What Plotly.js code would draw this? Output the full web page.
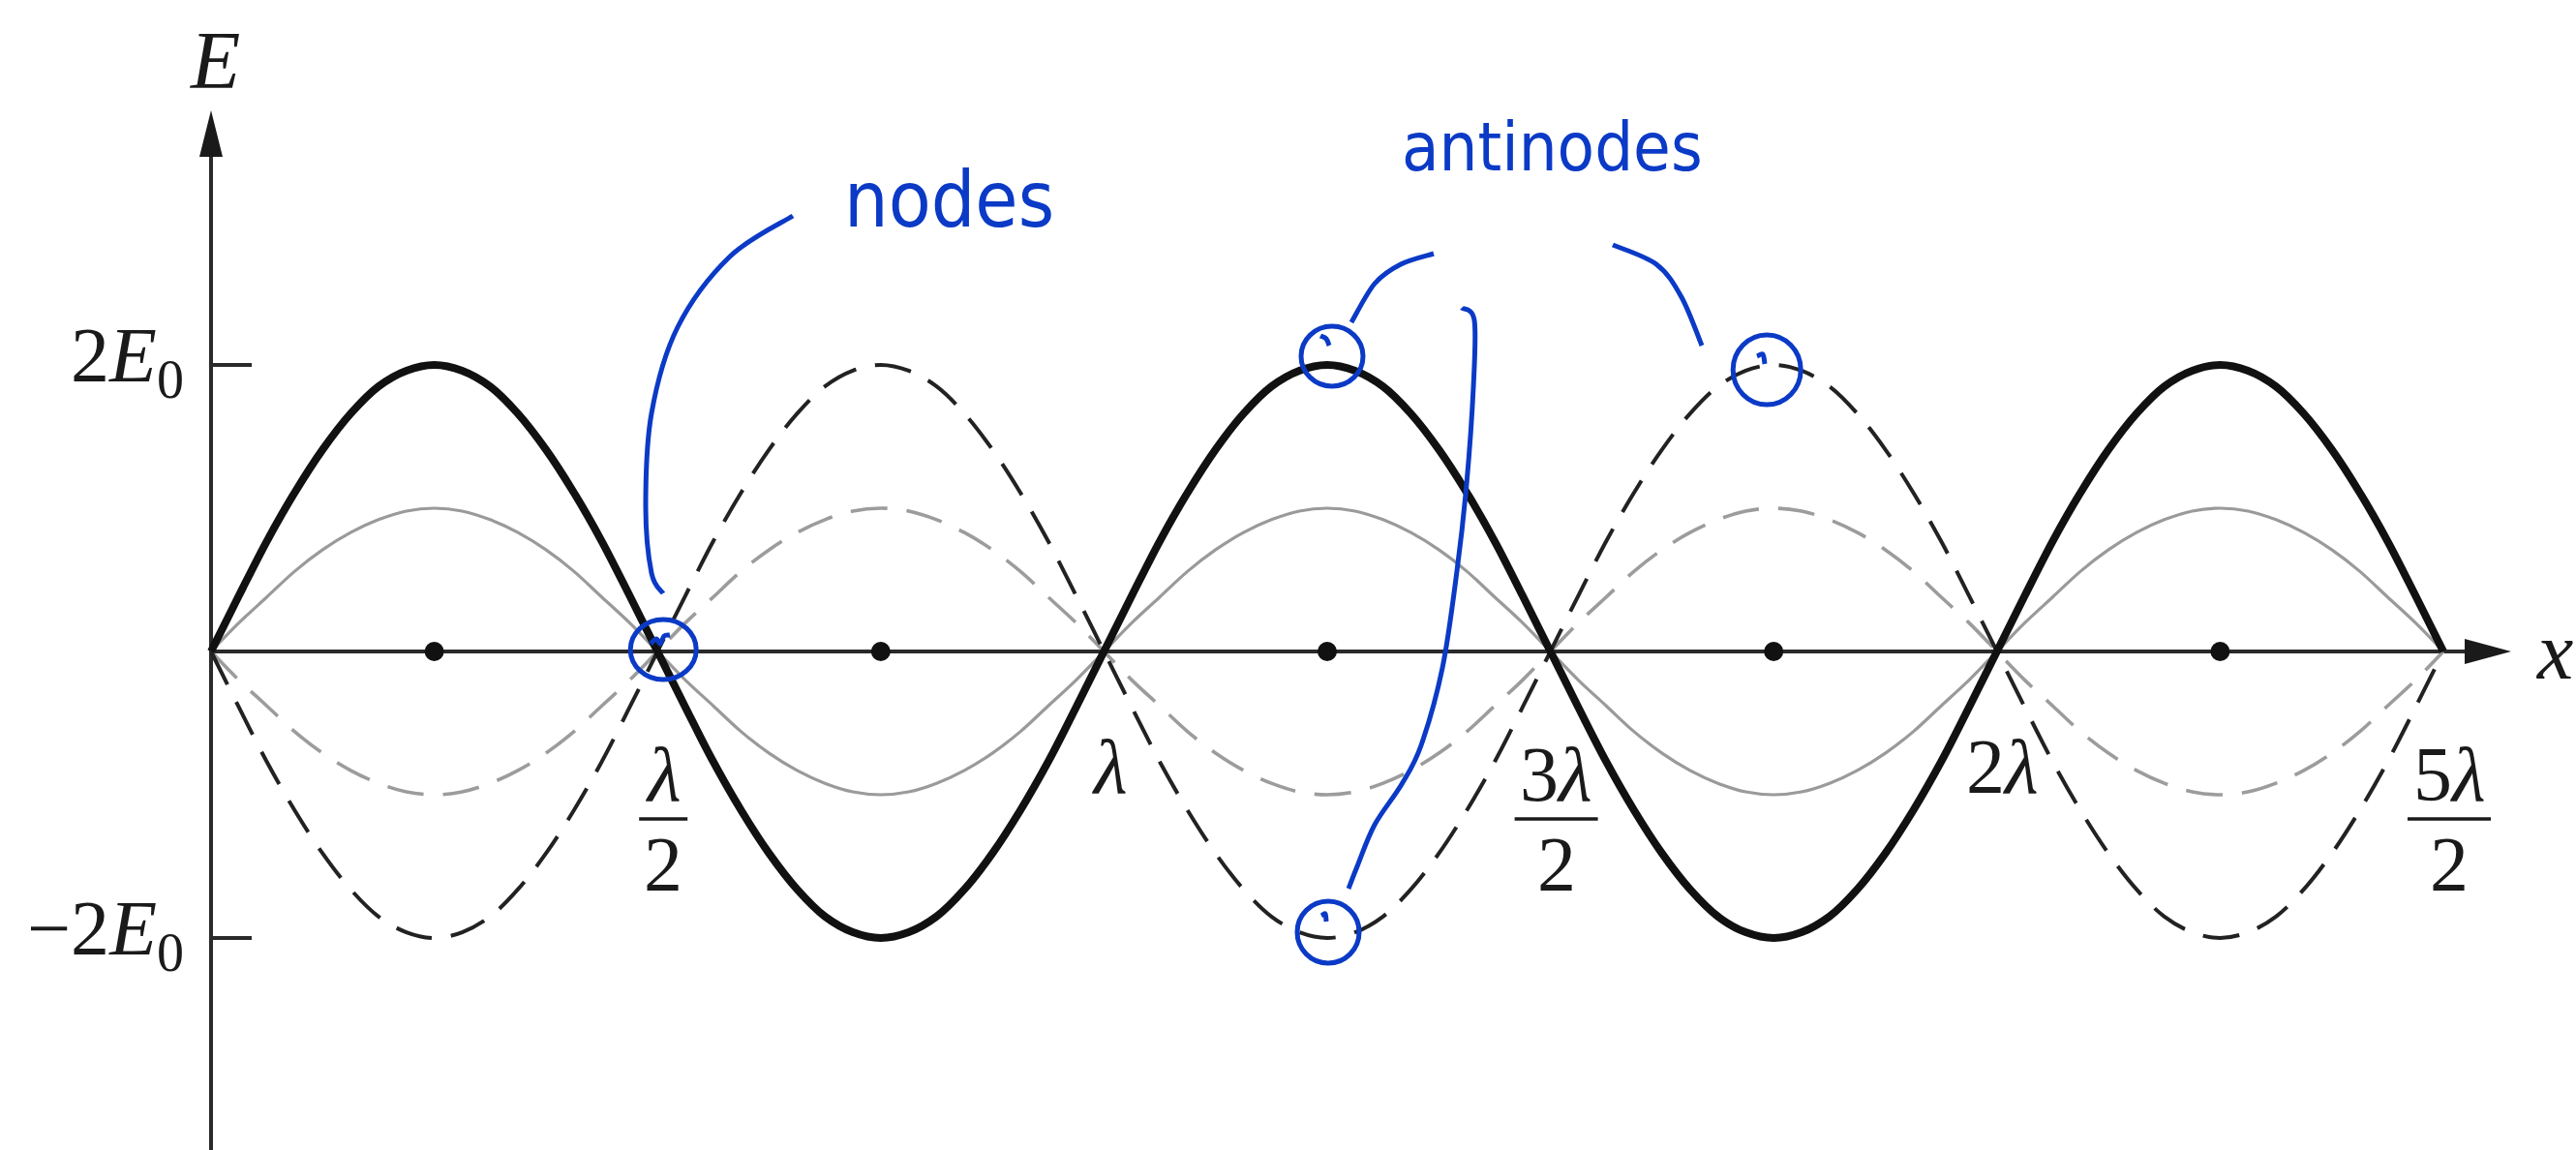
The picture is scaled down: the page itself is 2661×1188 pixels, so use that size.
<!DOCTYPE html>
<html>
<head>
<meta charset="utf-8">
<script src="https://cdn.plot.ly/plotly-3.0.1.min.js"></script>
<style>
  html, body { margin: 0; padding: 0; background: #fff; }
  #chart { width: 2661px; height: 1188px; }
</style>
</head>
<body>
<div id="chart"></div>
<script>
// Standing wave: position along x in units of the wavelength λ,
// field E in units of E0.
const x_pos = [
  0, 0.03125, 0.0625, 0.09375, 0.125, 0.15625, 0.1875, 0.21875, 0.25, 0.28125, 0.3125, 0.34375, 0.375, 0.40625, 0.4375, 0.46875,
  0.5, 0.53125, 0.5625, 0.59375, 0.625, 0.65625, 0.6875, 0.71875, 0.75, 0.78125, 0.8125, 0.84375, 0.875, 0.90625, 0.9375, 0.96875,
  1, 1.03125, 1.0625, 1.09375, 1.125, 1.15625, 1.1875, 1.21875, 1.25, 1.28125, 1.3125, 1.34375, 1.375, 1.40625, 1.4375, 1.46875,
  1.5, 1.53125, 1.5625, 1.59375, 1.625, 1.65625, 1.6875, 1.71875, 1.75, 1.78125, 1.8125, 1.84375, 1.875, 1.90625, 1.9375, 1.96875,
  2, 2.03125, 2.0625, 2.09375, 2.125, 2.15625, 2.1875, 2.21875, 2.25, 2.28125, 2.3125, 2.34375, 2.375, 2.40625, 2.4375, 2.46875,
  2.5];

// Full-amplitude snapshot (±2E0)
const e_full = [
  0, 0.39, 0.77, 1.11, 1.41, 1.66, 1.85, 1.96, 2, 1.96, 1.85, 1.66, 1.41, 1.11, 0.77, 0.39,
  0, -0.39, -0.77, -1.11, -1.41, -1.66, -1.85, -1.96, -2, -1.96, -1.85, -1.66, -1.41, -1.11, -0.77, -0.39,
  0, 0.39, 0.77, 1.11, 1.41, 1.66, 1.85, 1.96, 2, 1.96, 1.85, 1.66, 1.41, 1.11, 0.77, 0.39,
  0, -0.39, -0.77, -1.11, -1.41, -1.66, -1.85, -1.96, -2, -1.96, -1.85, -1.66, -1.41, -1.11, -0.77, -0.39,
  0, 0.39, 0.77, 1.11, 1.41, 1.66, 1.85, 1.96, 2, 1.96, 1.85, 1.66, 1.41, 1.11, 0.77, 0.39,
  0];

// Opposite-phase full-amplitude snapshot
const e_full_inv = [
  0, -0.39, -0.77, -1.11, -1.41, -1.66, -1.85, -1.96, -2, -1.96, -1.85, -1.66, -1.41, -1.11, -0.77, -0.39,
  0, 0.39, 0.77, 1.11, 1.41, 1.66, 1.85, 1.96, 2, 1.96, 1.85, 1.66, 1.41, 1.11, 0.77, 0.39,
  0, -0.39, -0.77, -1.11, -1.41, -1.66, -1.85, -1.96, -2, -1.96, -1.85, -1.66, -1.41, -1.11, -0.77, -0.39,
  0, 0.39, 0.77, 1.11, 1.41, 1.66, 1.85, 1.96, 2, 1.96, 1.85, 1.66, 1.41, 1.11, 0.77, 0.39,
  0, -0.39, -0.77, -1.11, -1.41, -1.66, -1.85, -1.96, -2, -1.96, -1.85, -1.66, -1.41, -1.11, -0.77, -0.39,
  0];

// Intermediate snapshots (±E0)
const e_half = [
  0, 0.2, 0.38, 0.56, 0.71, 0.83, 0.92, 0.98, 1, 0.98, 0.92, 0.83, 0.71, 0.56, 0.38, 0.2,
  0, -0.2, -0.38, -0.56, -0.71, -0.83, -0.92, -0.98, -1, -0.98, -0.92, -0.83, -0.71, -0.56, -0.38, -0.2,
  0, 0.2, 0.38, 0.56, 0.71, 0.83, 0.92, 0.98, 1, 0.98, 0.92, 0.83, 0.71, 0.56, 0.38, 0.2,
  0, -0.2, -0.38, -0.56, -0.71, -0.83, -0.92, -0.98, -1, -0.98, -0.92, -0.83, -0.71, -0.56, -0.38, -0.2,
  0, 0.2, 0.38, 0.56, 0.71, 0.83, 0.92, 0.98, 1, 0.98, 0.92, 0.83, 0.71, 0.56, 0.38, 0.2,
  0];

const e_half_inv = [
  0, -0.2, -0.38, -0.56, -0.71, -0.83, -0.92, -0.98, -1, -0.98, -0.92, -0.83, -0.71, -0.56, -0.38, -0.2,
  0, 0.2, 0.38, 0.56, 0.71, 0.83, 0.92, 0.98, 1, 0.98, 0.92, 0.83, 0.71, 0.56, 0.38, 0.2,
  0, -0.2, -0.38, -0.56, -0.71, -0.83, -0.92, -0.98, -1, -0.98, -0.92, -0.83, -0.71, -0.56, -0.38, -0.2,
  0, 0.2, 0.38, 0.56, 0.71, 0.83, 0.92, 0.98, 1, 0.98, 0.92, 0.83, 0.71, 0.56, 0.38, 0.2,
  0, -0.2, -0.38, -0.56, -0.71, -0.83, -0.92, -0.98, -1, -0.98, -0.92, -0.83, -0.71, -0.56, -0.38, -0.2,
  0];

// Points on the axis midway between nodes
const mid_x = [0.25, 0.75, 1.25, 1.75, 2.25];
const mid_y = [0, 0, 0, 0, 0];

// x-axis labels: position, numerator, denominator (null when not a fraction)
const x_ticks = [0.5, 1, 1.5, 2, 2.5];
const x_tick_num = ['λ', 'λ', '3λ', '2λ', '5λ'];
const x_tick_den = ['2', null, '2', null, '2'];

// y-axis ticks
const y_ticks = [2, -2];
const y_tick_text = ['2<i>E</i><sub>0</sub>', '\u22122<i>E</i><sub>0</sub>'];

// Marked points
const node_pts = [[0.5, 0]];
const antinode_pts = [[1.25, 2], [1.75, 2], [1.25, -2]];

// ---- page geometry (pixels) ----
const W = 2661, H = 1188;
const OX = 218, OY = 673;       // origin
const PX_PER_LAM = 922.4;       // pixels per wavelength
const PX_PER_E0 = 148;          // pixels per E0
const X = p => (p - OX) / PX_PER_LAM;
const Y = p => (OY - p) / PX_PER_E0;
const DX = d => d / PX_PER_LAM;
const DY = d => d / PX_PER_E0;

const INK = '#1a1a1a';
const BLUE = '#0b3ac6';
const SERIF = 'Liberation Serif, Times New Roman, serif';

const traces = [
  { x: x_pos, y: e_half, mode: 'lines', line: { color: '#9a9a9a', width: 3.2, shape: 'spline' } },
  { x: x_pos, y: e_half_inv, mode: 'lines', line: { color: '#9c9c9c', width: 3.6, dash: '38px,20px', shape: 'spline' } },
  { x: x_pos, y: e_full_inv, mode: 'lines', line: { color: '#222', width: 4, dash: '38px,20px', shape: 'spline' } },
  { x: x_pos, y: e_full, mode: 'lines', line: { color: '#111', width: 8, shape: 'spline' } },
  { x: mid_x, y: mid_y, mode: 'markers', marker: { color: '#111', size: 20 } }
];

const shapes = [];
const annotations = [];

// Axes with arrowheads
shapes.push({ type: 'line', layer: 'below', x0: 0, y0: 0, x1: X(2552), y1: 0, line: { color: '#2a2a2a', width: 4 } });
shapes.push({ type: 'path', layer: 'below',
  path: `M ${X(2594)},0 L ${X(2546)},${DY(13)} L ${X(2546)},${-DY(13)} Z`,
  fillcolor: '#1a1a1a', line: { width: 0 } });
shapes.push({ type: 'line', layer: 'below', x0: 0, y0: Y(H + 5), x1: 0, y1: Y(158), line: { color: '#2a2a2a', width: 4 } });
shapes.push({ type: 'path', layer: 'below',
  path: `M 0,${Y(114)} L ${-DX(12)},${Y(162)} L ${DX(12)},${Y(162)} Z`,
  fillcolor: '#1a1a1a', line: { width: 0 } });

// y ticks and labels
y_ticks.forEach((v, i) => {
  shapes.push({ type: 'line', layer: 'below', x0: 0, y0: v, x1: DX(42), y1: v, line: { color: '#2a2a2a', width: 4 } });
  annotations.push({ x: X(192), y: v + DY(4), xanchor: 'right', yanchor: 'middle', showarrow: false,
    text: y_tick_text[i], font: { family: SERIF, size: 80, color: INK } });
});

// x tick labels (stacked fractions where needed)
x_ticks.forEach((v, i) => {
  const cx = v + DX(6);
  const num = x_tick_num[i].replace('λ', '<i>λ</i>');
  if (x_tick_den[i]) {
    annotations.push({ x: cx, y: Y(800), xanchor: 'center', yanchor: 'middle', showarrow: false,
      text: num, font: { family: SERIF, size: 80, color: INK } });
    annotations.push({ x: cx, y: Y(893), xanchor: 'center', yanchor: 'middle', showarrow: false,
      text: x_tick_den[i], font: { family: SERIF, size: 80, color: INK } });
    const half = x_tick_num[i].length > 1 ? 43 : 25;
    shapes.push({ type: 'line', x0: cx - DX(half), x1: cx + DX(half), y0: Y(846), y1: Y(846),
      line: { color: INK, width: 3.5 } });
  } else {
    annotations.push({ x: cx, y: Y(792), xanchor: 'center', yanchor: 'middle', showarrow: false,
      text: num, font: { family: SERIF, size: 80, color: INK } });
  }
});

// axis names
annotations.push({ x: X(222), y: Y(62), xanchor: 'center', yanchor: 'middle', showarrow: false,
  text: '<i>E</i>', font: { family: SERIF, size: 84, color: INK } });
annotations.push({ x: X(2638), y: Y(672), xanchor: 'center', yanchor: 'middle', showarrow: false,
  text: '<i>x</i>', font: { family: SERIF, size: 84, color: INK } });

// ---- hand-drawn callouts ----
function smoothPath(pts) {
  // Catmull-Rom through pixel points, emitted as cubic Béziers in data units
  const P = pts.map(([px, py]) => [X(px), Y(py)]);
  let d = `M ${P[0][0]},${P[0][1]}`;
  for (let i = 0; i < P.length - 1; i++) {
    const p0 = P[Math.max(i - 1, 0)], p1 = P[i], p2 = P[i + 1], p3 = P[Math.min(i + 2, P.length - 1)];
    const c1 = [p1[0] + (p2[0] - p0[0]) / 6, p1[1] + (p2[1] - p0[1]) / 6];
    const c2 = [p2[0] - (p3[0] - p1[0]) / 6, p2[1] - (p3[1] - p1[1]) / 6];
    d += ` C ${c1[0]},${c1[1]} ${c2[0]},${c2[1]} ${p2[0]},${p2[1]}`;
  }
  return d;
}
const pen = { color: BLUE, width: 5 };
const strokes = [
  [[819, 223], [754, 265], [700, 338], [673, 427], [667, 523], [673, 592], [685, 613]],
  [[1481, 262], [1447, 273], [1420, 293], [1396, 333]],
  [[1666, 253], [1711, 273], [1737, 307], [1758, 357]],
  [[1510, 318], [1523, 331], [1522, 400], [1515, 500], [1505, 590], [1490, 690], [1468, 770],
   [1448, 810], [1420, 852], [1402, 895], [1393, 918]],
  // pen hooks inside the circles
  [[1364, 347], [1370, 350], [1373, 357]],
  [[1815, 368], [1821, 366], [1823, 376]],
  [[1365, 946], [1369, 944], [1370, 952]],
  [[672, 665], [678, 660], [682, 665], [686, 657], [692, 656]]
];
strokes.forEach(s => shapes.push({ type: 'path', path: smoothPath(s), line: pen }));

// circles around the marked node and antinodes
const ring = (pt, dx, dy, rx, ry) => ({
  type: 'circle', xref: 'x', yref: 'y', xsizemode: 'pixel', ysizemode: 'pixel',
  xanchor: pt[0], yanchor: pt[1],
  x0: dx - rx, x1: dx + rx, y0: -dy - ry, y1: -dy + ry,
  line: pen
});
shapes.push(ring(node_pts[0], 6, -2, 34, 31));
shapes.push(ring(antinode_pts[0], 5, -9, 32, 31));
shapes.push(ring(antinode_pts[1], -7, 5, 35, 36));
shapes.push(ring(antinode_pts[2], 1, -6, 32, 32));

const HAND = 'Liberation Sans Narrow, DejaVu Sans Condensed, Noto Sans, sans-serif';
annotations.push({ x: X(980), y: Y(206), xanchor: 'center', yanchor: 'middle', showarrow: false,
  text: 'nodes', font: { family: HAND, size: 80, color: BLUE } });
annotations.push({ x: X(1603), y: Y(152), xanchor: 'center', yanchor: 'middle', showarrow: false,
  text: 'antinodes', font: { family: HAND, size: 70, color: BLUE } });

const layout = {
  width: W, height: H,
  margin: { l: 0, r: 0, t: 0, b: 0, pad: 0 },
  paper_bgcolor: '#fff', plot_bgcolor: '#fff',
  showlegend: false,
  xaxis: { range: [X(0), X(W)], visible: false, fixedrange: true },
  yaxis: { range: [Y(H), Y(0)], visible: false, fixedrange: true },
  shapes: shapes,
  annotations: annotations
};

Plotly.newPlot('chart', traces, layout, { staticPlot: true, displayModeBar: false });
</script>
</body>
</html>
